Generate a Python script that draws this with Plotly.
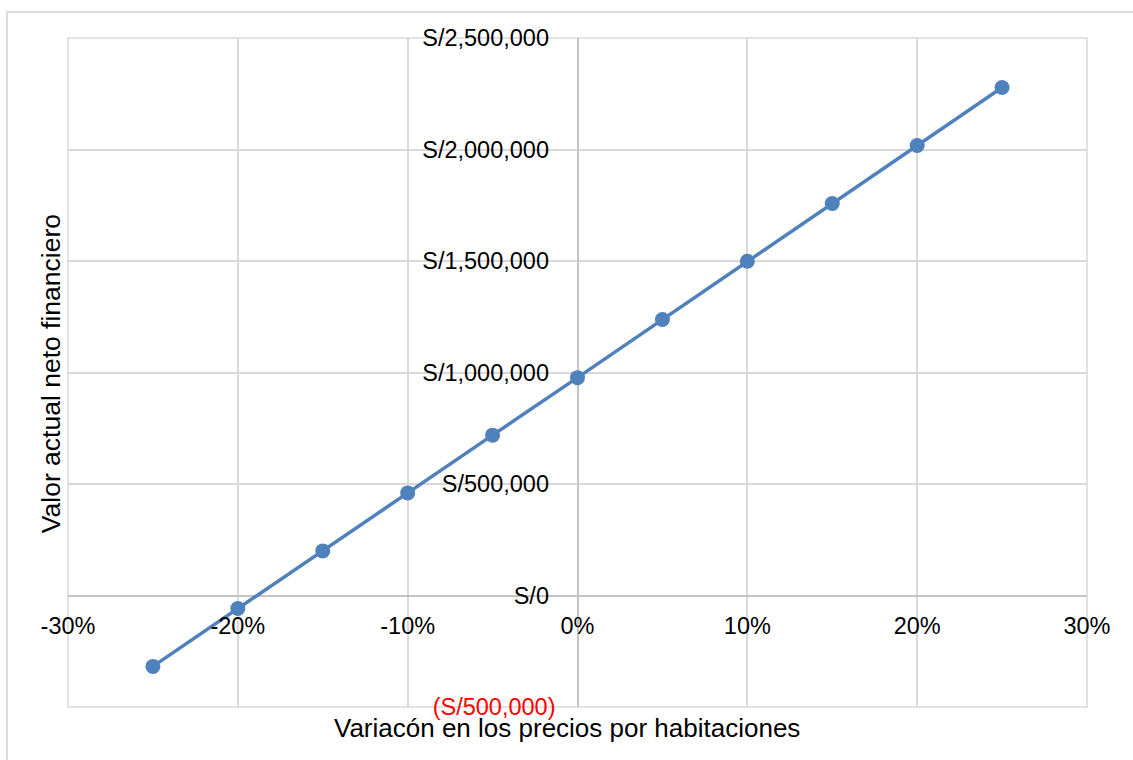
import plotly.graph_objects as go

# Price variation per room (fraction) and resulting financial NPV (S/)
variacion = [-0.25, -0.20, -0.15, -0.10, -0.05, 0.00, 0.05, 0.10, 0.15, 0.20, 0.25]
van_financiero = [-318000, -58000, 200000, 460000, 719000, 977000,
                  1238000, 1499000, 1758000, 2018000, 2278000]

x_ticks = [-0.30, -0.20, -0.10, 0.00, 0.10, 0.20, 0.30]
x_labels = ["-30%", "-20%", "-10%", "0%", "10%", "20%", "30%"]
y_ticks = [-500000, 0, 500000, 1000000, 1500000, 2000000, 2500000]
y_labels = ["<span style='color:#ff0000'>(S/500,000)</span>", "S/0\u00a0",
            "S/500,000\u00a0", "S/1,000,000\u00a0", "S/1,500,000\u00a0",
            "S/2,000,000\u00a0", "S/2,500,000\u00a0"]

FONT = "Liberation Sans, Arial, sans-serif"
GRID = "#d9d9d9"
Y_MIN, Y_MAX = -500000, 2500000

fig = go.Figure()
fig.add_trace(go.Scatter(
    x=variacion, y=van_financiero, mode="lines+markers",
    line=dict(color="#4f81bd", width=3.5),
    marker=dict(color="#4f81bd", size=15, line=dict(width=0)),
    showlegend=False, hoverinfo="skip",
))

fig.update_layout(
    width=1133, height=760,
    margin=dict(l=68, r=46, t=38, b=53),
    paper_bgcolor="white", plot_bgcolor="white",
    font=dict(family=FONT, color="#000000", size=23.5),
    xaxis=dict(
        range=[-0.30, 0.30], tickvals=x_ticks, ticktext=x_labels,
        showgrid=True, gridcolor=GRID, gridwidth=1.5,
        zeroline=True, zerolinecolor="#c4c4c4", zerolinewidth=1.5,
        showline=False, ticks="",
        anchor="free", position=(0 - Y_MIN) / (Y_MAX - Y_MIN),
        ticklabelstandoff=14,
        tickfont=dict(size=23.5, family=FONT, color="#000000"),
    ),
    yaxis=dict(
        range=[Y_MIN, Y_MAX], tickvals=y_ticks, ticktext=y_labels,
        showgrid=True, gridcolor=GRID, gridwidth=1.5,
        zeroline=True, zerolinecolor="#c4c4c4", zerolinewidth=1.5,
        showline=False, ticks="",
        anchor="free", position=0.5,
        ticklabelstandoff=22,
        tickfont=dict(size=23.5, family=FONT, color="#000000"),
    ),
    shapes=[
        # plot area frame
        dict(type="rect", xref="paper", yref="paper", x0=0, x1=1, y0=0, y1=1,
             line=dict(color=GRID, width=1.5), layer="below"),
        # chart area frame
        dict(type="rect", xref="paper", yref="paper", x0=-0.0599, x1=1.2,
             y0=-0.3, y1=1.0389, line=dict(color="#dcdcdc", width=2),
             layer="below"),
    ],
    annotations=[
        dict(text="Variacón en los precios por habitaciones", xref="paper",
             yref="paper", x=0.490, y=-0.0314, xanchor="center",
             yanchor="middle", showarrow=False,
             font=dict(size=26, family=FONT, color="#000000")),
        dict(text="Valor actual neto financiero", xref="paper", yref="paper",
             x=-0.0167, y=0.499, xanchor="center", yanchor="middle",
             textangle=-90, showarrow=False,
             font=dict(size=26.5, family=FONT, color="#000000")),
    ],
    hovermode=False,
)

fig.write_html("out.html")
